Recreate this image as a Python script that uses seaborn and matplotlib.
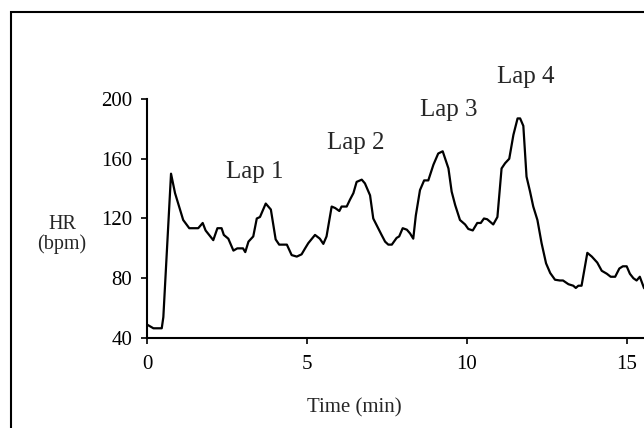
import matplotlib
matplotlib.use("Agg")
import matplotlib.pyplot as plt
import seaborn as sns
import pandas as pd
from matplotlib.patches import Rectangle

# heart rate trace
time_min = [0.0, 0.2, 0.46, 0.51, 0.75, 0.875, 1.13, 1.32, 1.6, 1.74, 1.83, 2.07, 2.2, 2.33,
            2.4, 2.54, 2.7, 2.82, 3.0, 3.07, 3.17, 3.32, 3.43, 3.53, 3.71, 3.87, 4.02, 4.13,
            4.37, 4.52, 4.68, 4.83, 4.94, 5.04, 5.25, 5.4, 5.51, 5.61, 5.77, 5.88, 6.01, 6.08,
            6.24, 6.34, 6.45, 6.55, 6.71, 6.81, 6.97, 7.07, 7.2, 7.33, 7.44, 7.54, 7.65, 7.8,
            7.88, 7.99, 8.12, 8.22, 8.32, 8.4, 8.53, 8.66, 8.79, 8.95, 9.1, 9.24, 9.42, 9.52,
            9.63, 9.78, 9.94, 10.04, 10.18, 10.32, 10.43, 10.53, 10.63, 10.82, 10.95, 11.08,
            11.19, 11.32, 11.45, 11.58, 11.66, 11.76, 11.86, 11.97, 12.07, 12.2, 12.33, 12.47,
            12.6, 12.75, 12.9, 13.0, 13.17, 13.32, 13.4, 13.48, 13.58, 13.76, 13.9, 14.07,
            14.21, 14.37, 14.49, 14.63, 14.76, 14.87, 14.99, 15.09, 15.2, 15.3, 15.4, 15.53, 15.7]
hr_bpm = [49, 46.5, 46.5, 54, 150, 137, 119, 113.5, 113.5, 117, 112, 105.5, 113.5, 113.5,
          109, 106.5, 98.5, 100, 100, 97.5, 104.5, 108, 120, 121, 130, 126, 106, 102.5,
          102.5, 95.5, 94.5, 96, 100, 103.5, 109, 106.5, 103, 108, 128, 127, 125, 128,
          128, 132.5, 137, 144.5, 146, 143.5, 135.5, 120, 114.5, 109, 104.5, 102.5, 102.5, 107,
          108, 113.5, 112.5, 110, 106.5, 122, 139, 145.5, 145.5, 156, 163.5, 165, 153.5, 138,
          129, 119, 116, 113, 112, 117, 117, 120, 119.5, 116, 121, 153.5,
          157, 160, 176, 187, 187, 182, 148, 138, 128, 119, 103.5, 90,
          83.5, 79, 78.5, 78.5, 76, 75, 73.5, 75, 75, 97, 94.5, 90.5,
          85, 83, 81, 81, 86.5, 88, 88, 83, 80, 78.5, 81, 73.5, 70]

lap_names = ["Lap 1", "Lap 2", "Lap 3", "Lap 4"]
lap_x = [3.38, 6.53, 9.43, 11.83]
lap_y = [147, 166.5, 188.6, 210.5]

y_ticks = [40, 80, 120, 160, 200]
x_ticks = [0, 5, 10, 15]

sns.set_style("white")
plt.rcParams["font.family"] = ["Liberation Serif", "DejaVu Serif"]

df = pd.DataFrame({"time": time_min, "hr": hr_bpm})

fig = plt.figure(figsize=(6.44, 4.28), dpi=100)
# axes run past the right edge, as in the cropped original
ax = fig.add_axes([0.2283, 0.2103, 0.795, 0.5584])

sns.lineplot(data=df, x="time", y="hr", color="black", linewidth=1.6, ax=ax)

ax.set_xlim(0, 16)
ax.set_ylim(40, 200)
ax.set_xticks(x_ticks)
ax.set_yticks(y_ticks)
ax.set_xlabel("")
ax.set_ylabel("")
for side in ["top", "right"]:
    ax.spines[side].set_visible(False)
for side in ["left", "bottom"]:
    ax.spines[side].set_linewidth(1.5)
    ax.spines[side].set_color("black")
ax.tick_params(axis="both", direction="out", length=4.5, width=1.2, colors="black",
               labelsize=15, bottom=True, left=True)
ax.tick_params(axis="y", pad=6)
ax.tick_params(axis="x", pad=8)

for name, lx, ly in zip(lap_names, lap_x, lap_y):
    ax.text(lx, ly, name, ha="center", va="baseline", fontsize=18, clip_on=False)

fig.text(354 / 644, 1 - 412 / 428, "Time (min)", ha="center", va="baseline", fontsize=15)
fig.text(62 / 644, 1 - 229 / 428, "HR", ha="center", va="baseline", fontsize=14.5)
fig.text(62 / 644, 1 - 249 / 428, "(bpm)", ha="center", va="baseline", fontsize=14.5)

# outer frame, cut off on the right and bottom like the reference
fig.patches.append(Rectangle((11 / 644, -0.2), 1.2, 1.2 - 12 / 428, transform=fig.transFigure,
                             fill=False, edgecolor="black", linewidth=1.5))

fig.savefig("out.png", dpi=100)
plt.close(fig)
